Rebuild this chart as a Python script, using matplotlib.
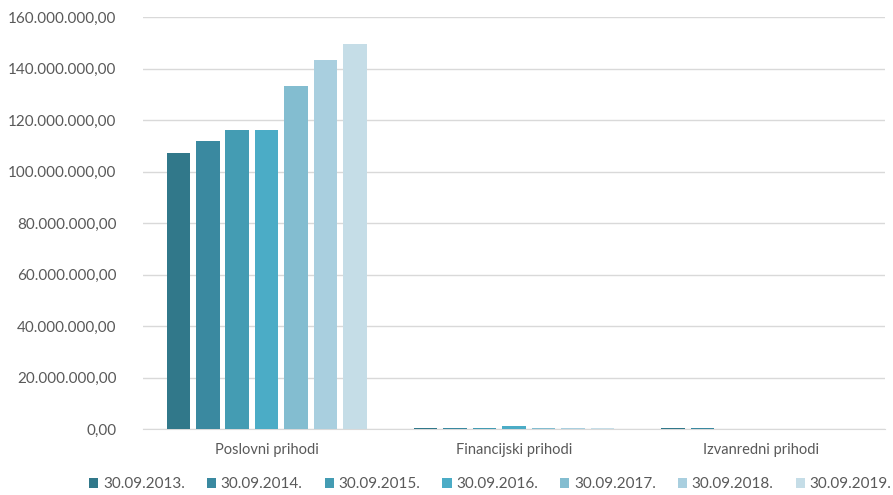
import matplotlib
matplotlib.use("Agg")
import matplotlib.pyplot as plt
import numpy as np
from matplotlib.ticker import FuncFormatter

categories = ["Poslovni prihodi", "Financijski prihodi", "Izvanredni prihodi"]
series_names = ["30.09.2013.", "30.09.2014.", "30.09.2015.", "30.09.2016.",
                "30.09.2017.", "30.09.2018.", "30.09.2019."]
values = [
    [107_200_000, 300_000, 300_000],
    [111_900_000, 300_000, 300_000],
    [116_100_000, 300_000, 0],
    [116_100_000, 1_100_000, 0],
    [133_200_000, 200_000, 0],
    [143_300_000, 200_000, 0],
    [149_500_000, 200_000, 0],
]
colors = ["#31788A", "#3A89A0", "#449CB3", "#4BACC6", "#83BDD0", "#A9CFDF", "#C5DDE7"]
yticks = [0, 20_000_000, 40_000_000, 60_000_000, 80_000_000, 100_000_000,
          120_000_000, 140_000_000, 160_000_000]

plt.rcParams['font.family'] = ['Lato', 'DejaVu Sans']
W, H = 893, 495
fig = plt.figure(figsize=(W / 100, H / 100), dpi=100)
ax = fig.add_axes([143 / W, (H - 429) / H, (885 - 143) / W, (429 - 17) / H])

x = np.arange(len(categories))
n = len(series_names)
slot = 0.833 / n
for i, (name, vals, c) in enumerate(zip(series_names, values, colors)):
    offs = (i - (n - 1) / 2) * slot
    ax.bar(x + offs, vals, width=slot * 0.8, color=c, label=name, zorder=3)

ax.set_xlim(-0.5, len(categories) - 0.5)
ax.set_ylim(0, 160_000_000)
ax.set_yticks(yticks)
ax.yaxis.set_major_formatter(FuncFormatter(
    lambda v, p: f"{v:,.2f}".replace(",", "X").replace(".", ",").replace("X", ".")))
ax.set_xticks(x)
ax.set_xticklabels(categories)
ax.grid(axis='y', color="#D9D9D9", linewidth=1, zorder=0)
for s in ["top", "right", "left"]:
    ax.spines[s].set_visible(False)
ax.spines["bottom"].set_color("#D9D9D9")
ax.tick_params(axis='both', length=0, colors="#595959", labelsize=10.5)
ax.tick_params(axis='y', labelsize=11, pad=19)
ax.tick_params(axis='x', pad=10)

leg = fig.legend(loc="lower center", ncol=n, bbox_to_anchor=(0.549, -0.02), frameon=False,
                 fontsize=11, handlelength=0.6, handleheight=0.6, handletextpad=0.3,
                 columnspacing=1.45, labelcolor="#595959")
fig.savefig("out.png", dpi=100)
